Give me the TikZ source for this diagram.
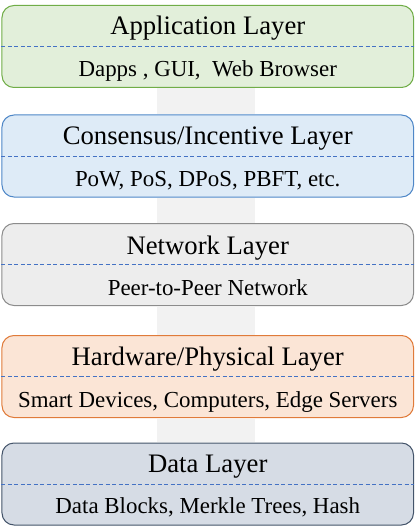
\documentclass[tikz,border=0pt]{standalone}
\usepackage{fontspec}
\setmainfont{Liberation Serif}
\usepackage{tikz}
\usetikzlibrary{positioning,calc}

\definecolor{appfill}{HTML}{E2EFDA}
\definecolor{appdraw}{HTML}{70AD47}
\definecolor{consfill}{HTML}{DEEBF7}
\definecolor{consdraw}{HTML}{4F87C7}
\definecolor{netfill}{HTML}{EDEDED}
\definecolor{netdraw}{HTML}{8C8C8C}
\definecolor{hwfill}{HTML}{FBE5D6}
\definecolor{hwdraw}{HTML}{E07B3A}
\definecolor{datafill}{HTML}{D6DCE5}
\definecolor{datadraw}{HTML}{44546A}
\definecolor{sepblue}{HTML}{4472C4}
\definecolor{barfill}{HTML}{F2F2F2}

\begin{document}
\begin{tikzpicture}[x=1bp, y=-1bp,
  layer/.style={rectangle, rounded corners=12bp, line width=1bp, minimum width=411.5bp, minimum height=82bp, inner sep=0pt},
  head/.style={anchor=base, inner sep=0pt, font=\fontsize{26.8}{30}\selectfont},
  body/.style={anchor=base, inner sep=0pt, font=\fontsize{23}{26}\selectfont},
  sep/.style={draw=sepblue, line width=0.8bp, dash pattern=on 4bp off 2.5bp}]

\useasboundingbox (0,0) rectangle (415,531);

% Application layer
\node[layer, draw=appdraw, fill=appfill] (app) at (207.75,46.5) {};
\node[head] (appT) at (207.75,35) {Application Layer};
\node[body] (appB) at (207.75,77) {Dapps , GUI,\ \ Web Browser};

% Consensus layer
\node[layer, draw=consdraw, fill=consfill] (cons) at (207.75,156) {};
\node[head] (consT) at (207.75,144.5) {Consensus/Incentive Layer};
\node[body] (consB) at (207.75,186.5) {PoW, PoS, DPoS, PBFT, etc.};

% Network layer
\node[layer, draw=netdraw, fill=netfill] (net) at (207.75,264.5) {};
\node[head] (netT) at (207.75,254) {Network Layer};
\node[body] (netB) at (207.75,295) {Peer-to-Peer Network};

% Hardware layer
\node[layer, draw=hwdraw, fill=hwfill] (hw) at (207.75,376.5) {};
\node[head] (hwT) at (207.75,365) {Hardware/Physical Layer};
\node[body] (hwB) at (207.75,407) {Smart Devices, Computers, Edge Servers};

% Data layer
\node[layer, draw=datadraw, fill=datafill] (data) at (207.75,484) {};
\node[head] (dataT) at (207.75,472.5) {Data Layer};
\node[body] (dataB) at (207.75,513.5) {Data Blocks, Merkle Trees, Hash};

% grey spine between the layers
\fill[barfill] ($(app.south)+(-50.75,0.5)$) rectangle ($(cons.north)+(47.25,-0.5)$);
\fill[barfill] ($(cons.south)+(-50.75,0.5)$) rectangle ($(net.north)+(47.25,-0.5)$);
\fill[barfill] ($(net.south)+(-50.75,0.5)$) rectangle ($(hw.north)+(47.25,-0.5)$);
\fill[barfill] ($(hw.south)+(-50.75,0.5)$) rectangle ($(data.north)+(47.25,-0.5)$);

% dashed separators
\draw[sep] (app.west) -- (app.east);
\draw[sep] (cons.west) -- (cons.east);
\draw[sep] (net.west) -- (net.east);
\draw[sep] (hw.west) -- (hw.east);
\draw[sep] (data.west) -- (data.east);

\end{tikzpicture}
\end{document}
